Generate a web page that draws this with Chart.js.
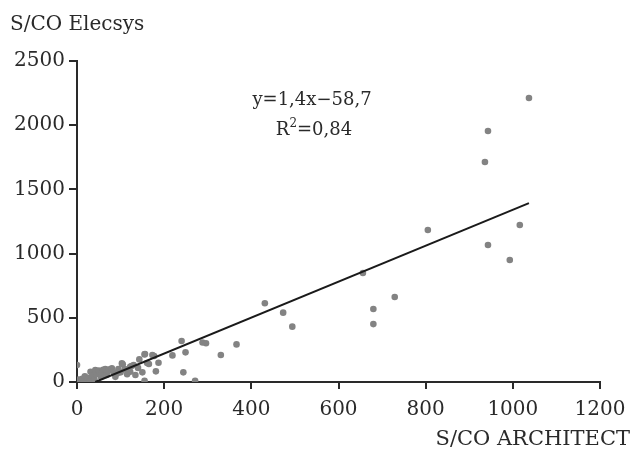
<!DOCTYPE html>
<html>
<head>
<meta charset="utf-8">
<script src="https://cdn.jsdelivr.net/npm/chart.js@4/dist/chart.umd.min.js"></script>
<style>
html,body{margin:0;padding:0;background:#fff;}
#wrap{width:631px;height:453px;position:relative;}
</style>
</head>
<body>
<div id="wrap"><canvas id="c" width="631" height="453"></canvas></div>
<script>
// S/CO ARCHITECT (x) vs S/CO Elecsys (y)
const architectValues = [
  1037, 943, 936, 805, 1016, 943, 993, 729, 680, 680, 656,
  431, 473, 494, 366, 330, 288, 296,
  240, 249, 219, 244, 271, 155, 155, 143, 173, 161, 187, 150, 181, 122,
  156, 177, 165, 105, 125, 122,
  0, 4, 8, 12, 15, 18, 22, 25, 30, 31, 35, 40, 42, 45, 50, 55, 58, 60,
  65, 68, 72, 75, 80, 85, 88, 92, 95, 100, 103, 110, 115, 118, 130, 134, 140
];
const elecsysValues = [
  2212, 1955, 1713, 1184, 1223, 1067, 950, 662, 568, 451, 849,
  613, 540, 431, 293, 210, 308, 302,
  319, 231, 207, 75, 10, 10, 215, 176, 210, 148, 150, 75, 83, 119,
  218, 202, 140, 138, 125, 80,
  132, 20, 10, 25, 5, 45, 15, 30, 8, 80, 50, 20, 93, 60, 90, 40, 75, 95,
  100, 55, 85, 98, 107, 70, 40, 67, 100, 75, 145, 100, 60, 90, 132, 55, 110
];
const regressionSlope = 1.4;
const regressionIntercept = -58.7;
const regressionLabel = "y=1,4x\u221258,7";
const xTicks = [0, 200, 400, 600, 800, 1000, 1200];
const yTicks = [0, 500, 1000, 1500, 2000, 2500];
const xTitle = "S/CO ARCHITECT";
const yTitle = "S/CO Elecsys";

const points = architectValues.map((x, i) => ({x: x, y: elecsysValues[i]}));
const xStart = -regressionIntercept / regressionSlope;
const xEnd = Math.max(...architectValues);
const linePts = [xStart, xEnd].map(x => ({x: x, y: regressionSlope * x + regressionIntercept}));

const FONT = "'DejaVu Serif', 'Liberation Serif', serif";
const INK = '#2a2a2a';

const textPlugin = {
  id: 'texts',
  afterDraw(chart) {
    const ctx = chart.ctx;
    ctx.save();
    ctx.fillStyle = INK;
    ctx.font = "20px " + FONT;
    ctx.textBaseline = 'middle';
    ctx.textAlign = 'left';
    ctx.fillText(yTitle, 10, 25);
    ctx.font = "21px " + FONT;
    ctx.textAlign = 'right';
    ctx.fillText(xTitle, 630, 440);
    ctx.font = "18px " + FONT;
    ctx.textAlign = 'center';
    ctx.fillText(regressionLabel, 312, 100);
    // R² with superscript
    const base = "R", sup = "2", rest = "=0,84";
    ctx.font = "18px " + FONT;
    const wb = ctx.measureText(base).width, wr = ctx.measureText(rest).width;
    ctx.font = "12px " + FONT;
    const ws = ctx.measureText(sup).width;
    let x0 = 314 - (wb + ws + wr) / 2;
    ctx.textAlign = 'left';
    ctx.font = "18px " + FONT;
    ctx.fillText(base, x0, 130);
    ctx.font = "12px " + FONT;
    ctx.fillText(sup, x0 + wb, 124);
    ctx.font = "18px " + FONT;
    ctx.fillText(rest, x0 + wb + ws, 130);
    ctx.restore();
  }
};

new Chart(document.getElementById('c'), {
  type: 'scatter',
  data: {
    datasets: [
      {
        label: 'data',
        data: points,
        backgroundColor: '#838383',
        borderColor: '#838383',
        pointRadius: 3.3,
        pointBorderWidth: 0,
        order: 2
      },
      {
        type: 'line',
        label: 'fit',
        data: linePts,
        borderColor: '#1a1a1a',
        borderWidth: 2,
        pointRadius: 0,
        fill: false,
        order: 1
      }
    ]
  },
  options: {
    responsive: false,
    animation: false,
    layout: {padding: {top: 61, right: 31, left: 0, bottom: 0}},
    plugins: {legend: {display: false}, tooltip: {enabled: false}, title: {display: false}},
    scales: {
      x: {
        type: 'linear', min: 0, max: 1200,
        afterBuildTicks(s) { s.ticks = xTicks.map(v => ({value: v})); },
        afterFit(s) { s.height = 71; s.paddingLeft = 0; s.paddingRight = 0; },
        grid: {drawOnChartArea: false, drawTicks: true, tickLength: 7, color: INK, lineWidth: 2},
        border: {display: true, color: INK, width: 2},
        ticks: {color: INK, font: {family: FONT, size: 20}, padding: 9, maxRotation: 0, autoSkip: false,
                callback: v => String(v)}
      },
      y: {
        type: 'linear', min: 0, max: 2500,
        afterBuildTicks(s) { s.ticks = yTicks.map(v => ({value: v})); },
        afterFit(s) { s.width = 77; s.paddingTop = 0; s.paddingBottom = 0; },
        grid: {drawOnChartArea: false, drawTicks: true, tickLength: 8, color: INK, lineWidth: 2},
        border: {display: true, color: INK, width: 2},
        ticks: {color: INK, font: {family: FONT, size: 20}, padding: 4, autoSkip: false,
                callback: v => String(v)}
      }
    }
  },
  plugins: [textPlugin]
});
</script>
</body>
</html>
